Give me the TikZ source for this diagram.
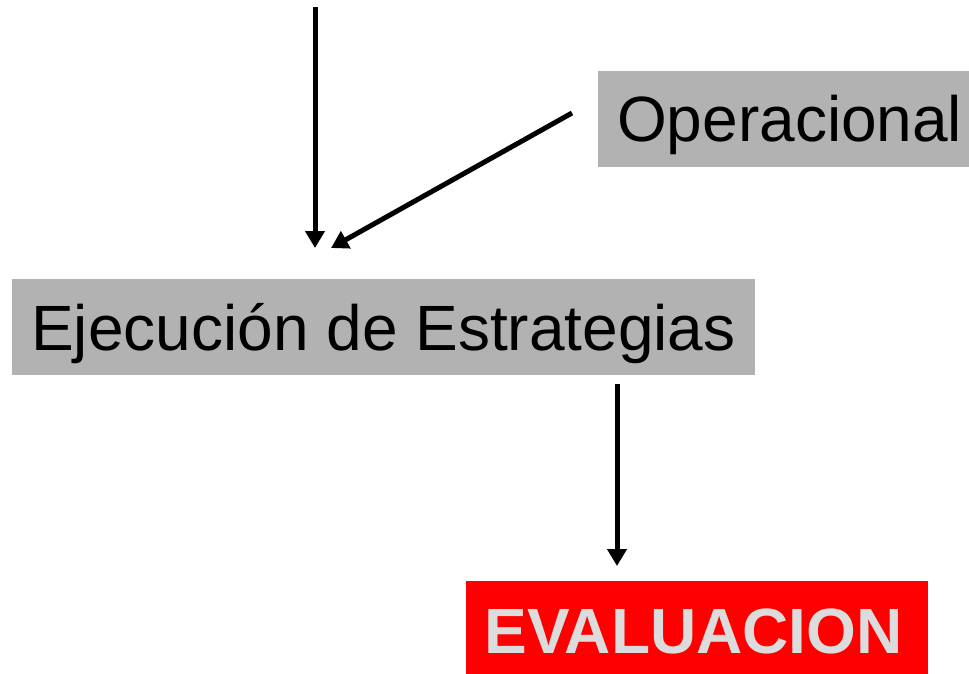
\documentclass[tikz,border=0pt]{standalone}
\usepackage{fontspec}
\setmainfont{Liberation Sans}
\usetikzlibrary{arrows.meta}
\definecolor{boxgray}{HTML}{B2B2B2}
\definecolor{evalred}{HTML}{FF0000}
\definecolor{evaltext}{HTML}{DCDCDC}
\begin{document}
\begin{tikzpicture}[x=1pt,y=-1pt,
  graybox/.style={fill=boxgray, inner sep=0pt, font=\fontsize{64}{70}\selectfont,
    text height=46pt, text depth=0pt},
  redbox/.style={fill=evalred, inner sep=0pt, text=evaltext,
    font=\fontsize{64}{70}\selectfont\bfseries, text height=46pt, text depth=0pt},
  arr/.style={line width=5pt, -{Triangle[width=19pt,length=17pt]}}]
\useasboundingbox (0,0) rectangle (969,674);
\node[graybox, minimum width=383pt, minimum height=96pt, anchor=west] (op) at (598,119) {\hspace*{0pt}Operacional};
\node[graybox, minimum width=743pt, minimum height=96pt] (ej) at (383.5,327) {Ejecución de Estrategias};
\node[redbox, minimum width=462pt, minimum height=99pt] (ev) at (697,630.5) {\hspace*{-7pt}EVALUACION};
\coordinate (s1) at (315,7);
\coordinate (h1) at (315,248);
\coordinate (s2) at (572,113);
\coordinate (h2) at (331,248);
\coordinate (s3) at (617,384);
\coordinate (h3) at (617,566);
\draw[arr] (s1) -- (h1);
\draw[arr] (s2) -- (h2);
\draw[arr] (s3) -- (h3);
\end{tikzpicture}
\end{document}
